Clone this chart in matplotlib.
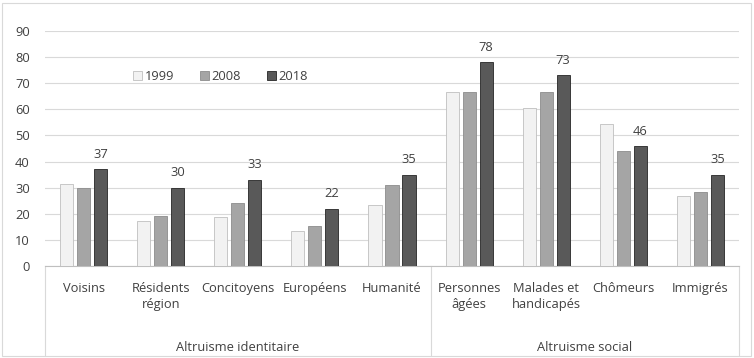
import matplotlib.pyplot as plt
import numpy as np
from matplotlib.patches import Rectangle
from matplotlib.lines import Line2D

categories = ['Voisins', 'Résidents\nrégion', 'Concitoyens', 'Européens', 'Humanité',
              'Personnes\nâgées', 'Malades et\nhandicapés', 'Chômeurs', 'Immigrés']
groups = ['Altruisme identitaire', 'Altruisme social']
group_sizes = [5, 4]
years = ['1999', '2008', '2018']
v1999 = [31.4, 17.2, 18.8, 13.4, 23.4, 66.7, 60.5, 54.4, 26.8]
v2008 = [29.9, 19.3, 24.0, 15.3, 31.0, 66.8, 66.8, 44.0, 28.4]
v2018 = [37, 30, 33, 22, 35, 78, 73, 46, 35]

plt.rcParams['font.family'] = ['Open Sans', 'DejaVu Sans']
FS = 9.3
TXT = '#404040'
W, H = 754, 358
fig = plt.figure(figsize=(W / 100, H / 100), dpi=100)
ax = fig.add_axes([45 / W, (H - 266) / H, (739 - 45) / W, (266 - 31) / H])

x = np.arange(len(categories))
colors = ['#f2f2f2', '#a5a5a5', '#595959']
edges = ['#bfbfbf', '#8c8c8c', '#262626']
bw = 0.17
step = 0.22
for i, (vals, c, e, lab) in enumerate(zip([v1999, v2008, v2018], colors, edges, years)):
    ax.bar(x + (i - 1) * step, vals, bw, color=c, edgecolor=e, linewidth=0.6, label=lab, zorder=3)

for xi, v in zip(x, v2018):
    ax.text(xi + step, v + 3.2, f'{v:g}', ha='center', va='bottom', fontsize=FS, color=TXT)

ax.set_xlim(-0.5, len(categories) - 0.5)
ax.set_ylim(0, 90)
ax.set_yticks(range(0, 91, 10))
ax.tick_params(axis='y', length=0, pad=11, labelsize=FS, labelcolor=TXT)
ax.set_xticks([])
ax.grid(axis='y', color='#d9d9d9', linewidth=0.8, zorder=0)
for s in ['top', 'right', 'left']:
    ax.spines[s].set_visible(False)
ax.spines['bottom'].set_color('#bfbfbf')
ax.spines['bottom'].set_linewidth(0.8)

# category labels and group labels below the axis
trans = ax.get_xaxis_transform()
for xi, lab in zip(x, categories):
    ax.text(xi, -0.07, lab, transform=trans, ha='center', va='top', fontsize=FS,
            color=TXT, linespacing=1.25)
start = 0
bounds = [-0.5]
for g, n in zip(groups, group_sizes):
    ax.text(start + (n - 1) / 2, -0.345, g, transform=trans, ha='center', va='center',
            fontsize=FS, color=TXT)
    start += n
    bounds.append(start - 0.5)
for b in bounds:
    ax.add_line(Line2D([b, b], [0, -0.38], transform=trans, color='#d9d9d9',
                       linewidth=0.8, clip_on=False))

ax.legend(loc='upper left', bbox_to_anchor=(0.11, 0.885), ncol=3, frameon=False,
          fontsize=FS, handlelength=0.7, handleheight=0.7, handletextpad=0.2,
          columnspacing=2.0, labelcolor=TXT)

fig.add_artist(Rectangle((2 / W, 2 / H), (W - 5) / W, (H - 5) / H, transform=fig.transFigure,
                         fill=False, edgecolor='#d9d9d9', linewidth=0.8))

fig.savefig('out.png', dpi=100)
